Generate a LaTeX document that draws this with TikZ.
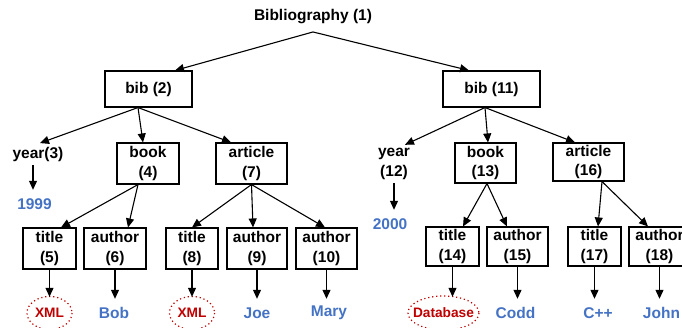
\documentclass[tikz,border=0pt]{standalone}
\usepackage{fontspec}
\setmainfont{Liberation Sans}
\usetikzlibrary{arrows.meta}
\definecolor{valblue}{HTML}{4472C4}
\definecolor{xmlred}{HTML}{C00000}

\begin{document}
\begin{tikzpicture}[x=1pt, y=-1pt, font=\fontsize{15.5}{19.5}\selectfont\bfseries,
  box/.style = {rectangle, draw, line width=1.1pt, align=center, inner sep=0pt, minimum height=41pt},
  lbl/.style = {align=center, inner sep=3.5pt},
  val/.style = {text=valblue, inner sep=0pt, minimum height=28pt},
  xml/.style = {text=xmlred, font=\fontsize{13.7}{16}\selectfont\bfseries, inner sep=0pt, minimum height=32pt},
  ring/.style = {draw=xmlred, line width=1.2pt, dash pattern=on 1.2pt off 2.8pt},
  arr/.style = {line width=1.1pt, -{Triangle[length=9pt, width=8pt]}}]

\useasboundingbox (0,0) rectangle (682,327);
\clip (0,0) rectangle (682,327);

\node[inner xsep=0pt, inner ysep=7.5pt] (root) at (313,17) {Bibliography (1)};

% left subtree
\node[box, minimum width=87pt, minimum height=36pt] (bib2) at (148.5,89) {bib (2)};
\node[lbl] (year3) at (38,154) {year(3)};
\node[box, minimum width=62pt] (book4) at (148,163.5) {book\\(4)};
\node[box, minimum width=71pt] (art7) at (251.5,163.5) {article\\(7)};
\node[box, minimum width=53pt] (title5) at (49.5,248.5) {title\\(5)};
\node[box, minimum width=62pt] (auth6) at (115,248.5) {author\\(6)};
\node[box, minimum width=52pt] (title8) at (192,248.5) {title\\(8)};
\node[box, minimum width=60pt] (auth9) at (257,248.5) {author\\(9)};
\node[box, minimum width=61pt] (auth10) at (326.5,248.5) {author\\(10)};

\node[val] (v1999) at (34.5,204) {1999};
\node[xml] (xml5) at (49.5,313) {XML};
\node[val, minimum height=28pt] (bob) at (114,313) {Bob};
\node[xml] (xml8) at (192,313) {XML};
\node[val] (joe) at (257,313) {Joe};
\node[val] (mary) at (329,313) {Mary};

% right subtree
\node[box, minimum width=97pt, minimum height=36pt] (bib11) at (491.5,89) {bib (11)};
\node[lbl] (year12) at (394,164) {year\\(12)};
\node[box, minimum width=61pt, minimum height=40pt] (book13) at (485.5,163) {book\\(13)};
\node[box, minimum width=71pt, minimum height=38pt] (art16) at (588.5,162) {article\\(16)};
\node[box, minimum width=53pt, minimum height=39pt] (title14) at (452.5,246.5) {title\\(14)};
\node[box, minimum width=61pt, minimum height=39pt] (auth15) at (517.5,246.5) {author\\(15)};
\node[box, minimum width=53pt, minimum height=39pt] (title17) at (594.5,246.5) {title\\(17)};
\node[box, minimum width=61pt, minimum height=39pt] (auth18) at (659.5,246.5) {author\\(18)};

\node[val] (v2000) at (390,224) {2000};
\node[xml] (dbase) at (443.5,313) {Database};
\node[val] (codd) at (515.5,313) {Codd};
\node[val] (cpp) at (598,313) {C++};
\node[val] (john) at (661.5,313) {John};

% dotted rings round the XML values
\draw[ring] (xml5) ellipse [x radius=22.5, y radius=16.5];
\draw[ring] (xml8) ellipse [x radius=22.5, y radius=16.5];
\draw[ring] (dbase) ellipse [x radius=35.5, y radius=17];

% edges
\draw[arr] (root.south) -- ([xshift=26.5pt]bib2.north);
\draw[arr] (root.south) -- ([xshift=-22.5pt]bib11.north);

\draw[arr] ([xshift=-10.5pt]bib2.south) -- ([xshift=2pt]year3.north);
\draw[arr] ([xshift=-10.5pt]bib2.south) -- ([xshift=-5pt]book4.north);
\draw[arr] ([xshift=-10.5pt]bib2.south) -- ([xshift=-20.5pt]art7.north);
\draw[arr] ([xshift=-5pt]year3.south) -- ([xshift=-1.5pt]v1999.north);
\draw[arr] ([xshift=-10pt]book4.south) -- ([xshift=11.5pt]title5.north);
\draw[arr] ([xshift=-10pt]book4.south) -- ([xshift=13pt]auth6.north);
\draw[arr] (art7.south) -- (title8.north);
\draw[arr] (art7.south) -- ([xshift=-4pt]auth9.north);
\draw[arr] (art7.south) -- ([xshift=-1.5pt]auth10.north);
\draw[arr] (title5.south) -- (title5.south |- xml5.north);
\draw[arr] (auth6.south) -- (auth6.south |- bob.north);
\draw[arr] (title8.south) -- (title8.south |- xml8.north);
\draw[arr] (auth9.south) -- (auth9.south |- joe.north);
\draw[arr] (auth10.south) -- (auth10.south |- mary.north);

\draw[arr] ([xshift=-6.5pt]bib11.south) -- ([xshift=11pt]year12.north);
\draw[arr] ([xshift=-6.5pt]bib11.south) -- ([xshift=2.5pt]book13.north);
\draw[arr] ([xshift=-6.5pt]bib11.south) -- ([xshift=-13.5pt]art16.north);
\draw[arr] (year12.south) -- ([xshift=4pt]v2000.north);
\draw[arr] ([xshift=1.5pt]book13.south) -- ([xshift=10.5pt]title14.north);
\draw[arr] ([xshift=1.5pt]book13.south) -- ([xshift=-10.5pt]auth15.north);
\draw[arr] ([xshift=13.5pt]art16.south) -- ([xshift=3.5pt]title17.north);
\draw[arr] ([xshift=13.5pt]art16.south) -- ([xshift=-11.5pt]auth18.north);
\draw[arr] (title14.south) -- (title14.south |- dbase.north);
\draw[arr] (auth15.south) -- (auth15.south |- codd.north);
\draw[arr] (title17.south) -- (title17.south |- cpp.north);
\draw[arr] (auth18.south) -- (auth18.south |- john.north);

\end{tikzpicture}
\end{document}
